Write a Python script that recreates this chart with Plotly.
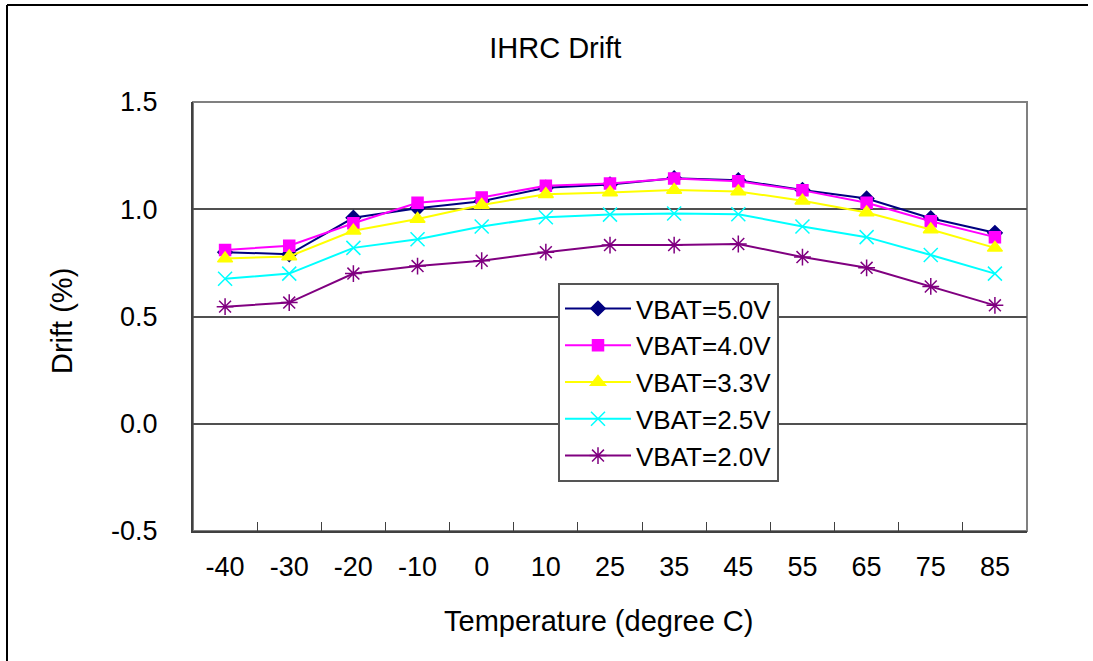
import plotly.graph_objects as go

temperatures = ["-40", "-30", "-20", "-10", "0", "10", "25", "35", "45", "55", "65", "75", "85"]
vbat_50 = [0.80, 0.79, 0.96, 1.005, 1.037, 1.10, 1.115, 1.145, 1.135, 1.09, 1.05, 0.958, 0.89]
vbat_40 = [0.81, 0.83, 0.935, 1.03, 1.055, 1.11, 1.12, 1.143, 1.13, 1.088, 1.03, 0.944, 0.87]
vbat_33 = [0.77, 0.78, 0.90, 0.955, 1.02, 1.07, 1.078, 1.09, 1.083, 1.04, 0.985, 0.906, 0.82]
vbat_25 = [0.676, 0.70, 0.82, 0.86, 0.92, 0.963, 0.975, 0.98, 0.977, 0.92, 0.87, 0.787, 0.70]
vbat_20 = [0.546, 0.565, 0.70, 0.735, 0.76, 0.80, 0.833, 0.833, 0.838, 0.777, 0.727, 0.64, 0.552]
series_names = ["VBAT=5.0V", "VBAT=4.0V", "VBAT=3.3V", "VBAT=2.5V", "VBAT=2.0V"]
y_ticks = [-0.5, 0.0, 0.5, 1.0, 1.5]
y_tick_labels = ["-0.5", "0.0", "0.5", "1.0", "1.5"]

FONT = "Liberation Sans, Arial, sans-serif"

styles = [
    dict(color="#000080", symbol="diamond", size=11),
    dict(color="#FF00FF", symbol="square", size=11),
    dict(color="#FFFF00", symbol="triangle-up", size=13),
    dict(color="#00FFFF", symbol="x-thin-open", size=14),
    dict(color="#800080", symbol="asterisk-open", size=14),
]

fig = go.Figure()
for name, vals, st in zip(series_names, [vbat_50, vbat_40, vbat_33, vbat_25, vbat_20], styles):
    fig.add_trace(go.Scatter(
        x=temperatures, y=vals, name=name, mode="lines+markers",
        line=dict(color=st["color"], width=2),
        marker=dict(symbol=st["symbol"], size=st["size"], color=st["color"],
                    line=dict(color=st["color"], width=1.5)),
    ))

L, R, T, B = 193, 1027, 102, 531
W, H = 1093, 661
pw, ph = R - L, B - T

def px(x):
    return (x - L) / pw

def py(y):
    return (B - y) / ph

fig.update_layout(
    width=W, height=H,
    margin=dict(l=L, r=W - R, t=T, b=H - B, pad=0),
    paper_bgcolor="white", plot_bgcolor="white",
    font=dict(family=FONT, size=27, color="black"),
    title=dict(text="IHRC Drift", x=0.508, xref="container", xanchor="center",
               y=1 - 48 / H, yref="container", yanchor="middle",
               font=dict(family=FONT, size=29, color="black")),
    showlegend=True,
    legend=dict(x=px(558), y=py(283), xanchor="left", yanchor="top",
                bgcolor="white", bordercolor="#555555", borderwidth=2,
                font=dict(family=FONT, size=26, color="black"),
                itemwidth=66, tracegroupgap=0),
    xaxis=dict(type="category", range=[-0.5, 12.5], showgrid=False,
               showline=True, linecolor="#404040", linewidth=2,
               ticks="inside", tickson="boundaries", ticklen=9, tickcolor="#404040", tickwidth=1,
               tickfont=dict(family=FONT, size=27, color="black"),
               ticklabelstandoff=11, zeroline=False),
    yaxis=dict(range=[-0.5, 1.5], tickvals=y_ticks, ticktext=y_tick_labels,
               showgrid=True, gridcolor="#505050", gridwidth=1.5,
               showline=True, linecolor="#404040", linewidth=2,
               ticks="", tickfont=dict(family=FONT, size=27, color="black"),
               ticklabelstandoff=28, zeroline=False),
    annotations=[
        dict(text="Temperature (degree C)", xref="paper", yref="paper",
             x=px(598), y=py(621), xanchor="center", yanchor="middle",
             showarrow=False, font=dict(family=FONT, size=29, color="black")),
        dict(text="Drift (%)", xref="paper", yref="paper",
             x=px(62), y=py(321), xanchor="center", yanchor="middle", textangle=-90,
             showarrow=False, font=dict(family=FONT, size=29, color="black")),
    ],
    shapes=[
        dict(type="rect", xref="paper", yref="paper", x0=0, x1=1, y0=0, y1=1,
             line=dict(color="#808080", width=2), layer="below"),
        dict(type="line", xref="paper", yref="paper",
             x0=px(7), x1=px(1088), y0=py(5), y1=py(5),
             line=dict(color="black", width=2), layer="above"),
        dict(type="line", xref="paper", yref="paper",
             x0=px(7), x1=px(7), y0=py(5), y1=py(668),
             line=dict(color="black", width=2), layer="above"),
    ],
)

fig.write_html("out.html")
